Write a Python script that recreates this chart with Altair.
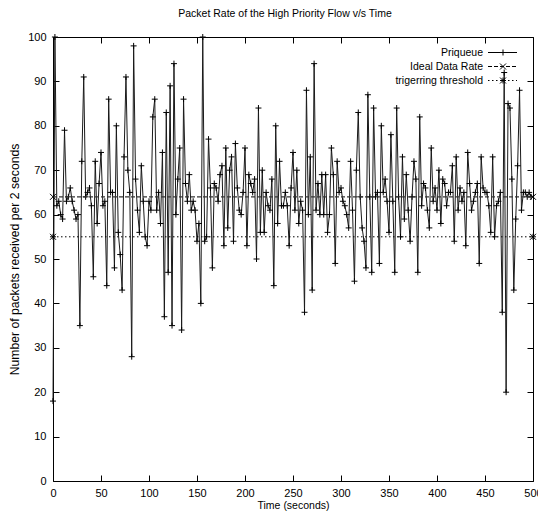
import altair as alt
import pandas as pd

# Priqueue packet counts, one every 2 seconds (t = 0, 2, ..., 498)
priqueue = [
    18, 100, 62, 63, 60, 59, 79, 63, 64, 66,
    63, 61, 59, 60, 35, 72, 91, 64, 65, 66,
    62, 46, 72, 58, 67, 74, 62, 63, 44, 86,
    65, 65, 48, 80, 56, 51, 43, 73, 91, 70,
    65, 28, 98, 68, 61, 56, 71, 63, 55, 53,
    63, 61, 82, 86, 61, 65, 58, 74, 37, 83,
    47, 89, 35, 94, 60, 68, 75, 34, 86, 67,
    63, 69, 61, 63, 61, 54, 58, 40, 100, 54,
    55, 77, 66, 48, 67, 66, 63, 69, 71, 53,
    75, 57, 70, 73, 54, 76, 66, 61, 60, 65,
    75, 53, 69, 67, 65, 68, 50, 84, 56, 70,
    56, 65, 62, 61, 68, 44, 80, 58, 72, 62,
    62, 65, 62, 53, 66, 74, 61, 70, 58, 63,
    61, 38, 88, 60, 73, 43, 94, 61, 67, 60,
    69, 60, 69, 56, 60, 75, 69, 49, 72, 65,
    66, 63, 62, 60, 57, 72, 61, 45, 70, 83,
    64, 57, 54, 48, 87, 64, 47, 84, 64, 65,
    49, 80, 65, 68, 63, 56, 78, 63, 47, 84,
    64, 55, 73, 59, 69, 61, 54, 64, 72, 68,
    47, 82, 62, 67, 66, 61, 57, 75, 63, 66,
    61, 70, 58, 68, 67, 62, 65, 65, 71, 54,
    73, 61, 66, 63, 65, 53, 74, 67, 61, 63,
    65, 67, 49, 73, 66, 65, 65, 62, 56, 73,
    55, 62, 63, 65, 38, 92, 20, 85, 84, 68,
    43, 59, 71, 88, 61, 65, 65, 64, 65, 64,
]
times = [2 * i for i in range(len(priqueue))]

ref_times = [0, 500]
ideal_rate = [64, 64]
threshold = [55, 55]

x_ticks = [0, 50, 100, 150, 200, 250, 300, 350, 400, 450, 500]
y_ticks = [0, 10, 20, 30, 40, 50, 60, 70, 80, 90, 100]

legend_labels = ["Priqueue", "Ideal Data Rate", "trigerring threshold"]
title_text = "Packet Rate of the High Priority Flow v/s Time"

FONT = "Liberation Sans, Arial, Helvetica, sans-serif"
FS = 10.5
TICK_FS = 11
YTITLE_FS = 12.2

PLUS = "M-1,0L1,0M0,-1L0,1"
XSHAPE = "M-1,-1L1,1M-1,1L1,-1"
STAR = PLUS + XSHAPE

df = pd.DataFrame({"time": times, "rate": priqueue})
ref = pd.DataFrame({"time": ref_times, "ideal": ideal_rate, "thr": threshold})

xs = alt.Scale(domain=[0, 500], nice=False, zero=False)
ys = alt.Scale(domain=[0, 100], nice=False)

common_axis = dict(domain=False, grid=False, tickSize=6, offset=-6,
                   tickColor="black", tickWidth=1, labelFont=FONT,
                   labelFontSize=TICK_FS, labelColor="black", titleFont=FONT,
                   titleFontWeight="normal",
                   titleColor="black", labelOverlap=False, labelFlush=False)

x_bottom = alt.Axis(orient="bottom", values=x_ticks, labelPadding=6,
                    title="Time (seconds)", titlePadding=2,
                    titleFontSize=FS, **common_axis)
y_left = alt.Axis(orient="left", values=y_ticks, labelPadding=7,
                  title="Number of packets received per 2 seconds",
                  titlePadding=6, titleFontSize=YTITLE_FS, **common_axis)
x_top = alt.Axis(orient="top", values=x_ticks, labels=False, title="",
                 **common_axis)
y_right = alt.Axis(orient="right", values=y_ticks, labels=False, title="",
                   **common_axis)

base = alt.Chart(df)

pri_line = base.mark_line(color="#1a1a1a", strokeWidth=1).encode(
    x=alt.X("time:Q", scale=xs, axis=x_bottom),
    y=alt.Y("rate:Q", scale=ys, axis=y_left),
)
pri_pts = base.mark_point(shape=PLUS, size=36, filled=False, color="black",
                          strokeWidth=1, opacity=1).encode(
    x=alt.X("time:Q", scale=xs, axis=None),
    y=alt.Y("rate:Q", scale=ys, axis=None),
)

refc = alt.Chart(ref)
ideal_line = refc.mark_line(color="#333333", strokeWidth=1.4,
                            strokeDash=[4, 2]).encode(
    x=alt.X("time:Q", scale=xs, axis=x_top),
    y=alt.Y("ideal:Q", scale=ys, axis=y_right),
)
ideal_pts = refc.mark_point(shape=XSHAPE, size=36, filled=False,
                            color="black", strokeWidth=1, opacity=1).encode(
    x=alt.X("time:Q", scale=xs, axis=None),
    y=alt.Y("ideal:Q", scale=ys, axis=None),
)
thr_line = refc.mark_line(color="black", strokeWidth=1,
                          strokeDash=[1.5, 2.5]).encode(
    x=alt.X("time:Q", scale=xs, axis=None),
    y=alt.Y("thr:Q", scale=ys, axis=None),
)
thr_pts = refc.mark_point(shape=STAR, size=36, filled=False, color="black",
                          strokeWidth=1, opacity=1).encode(
    x=alt.X("time:Q", scale=xs, axis=None),
    y=alt.Y("thr:Q", scale=ys, axis=None),
)

# gnuplot-style key, top right inside the frame
row_y = [15.5, 29.5, 43.5]
dashes = [[1, 0], [4, 2], [1.5, 2.5]]
shapes = [PLUS, XSHAPE, STAR]
legend_layers = []
for lab, yy, dsh, shp in zip(legend_labels, row_y, dashes, shapes):
    ldf = alt.Chart(pd.DataFrame({"label": [lab]}))
    legend_layers.append(
        ldf.mark_text(align="right", baseline="middle", font=FONT,
                      fontSize=FS, color="black").encode(
            text="label:N", x=alt.value(430), y=alt.value(yy))
    )
    legend_layers.append(
        ldf.mark_rule(color="black", strokeWidth=1, strokeDash=dsh).encode(
            x=alt.value(435), x2=alt.value(464), y=alt.value(yy))
    )
    legend_layers.append(
        ldf.mark_point(shape=shp, size=36, filled=False, color="black",
                       strokeWidth=1, opacity=1).encode(
            x=alt.value(450), y=alt.value(yy))
    )

title_layer = alt.Chart(pd.DataFrame({"t": [title_text]})).mark_text(
    align="center", baseline="middle", font=FONT, fontSize=FS, color="black"
).encode(text="t:N", x=alt.value(232), y=alt.value(-23))

chart = alt.layer(
    pri_line, pri_pts, ideal_line, ideal_pts, thr_line, thr_pts,
    *legend_layers, title_layer
).resolve_axis(x="independent", y="independent").properties(
    width=480, height=444,
    autosize=alt.AutoSizeParams(type="none"),
    padding={"left": 53, "top": 37, "right": 5, "bottom": 44},
    background="white",
).configure_view(stroke="black", strokeWidth=1)

chart.save("out.html", embed_options={"renderer": "svg", "actions": False})
